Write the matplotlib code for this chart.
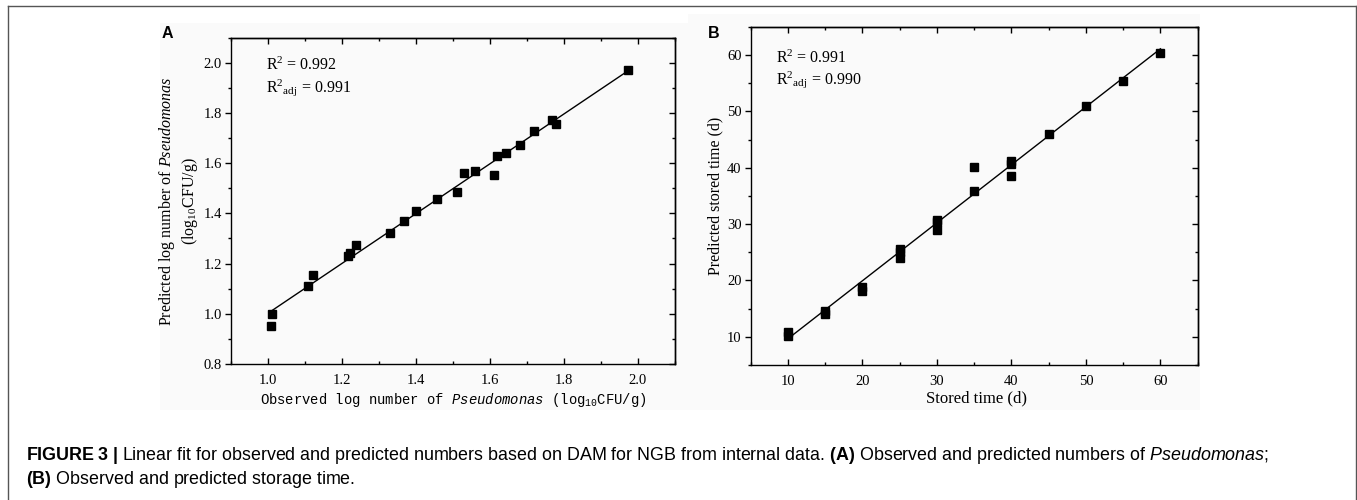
import numpy as np
import matplotlib
matplotlib.use("Agg")
import matplotlib.pyplot as plt
from matplotlib.ticker import MultipleLocator, FormatStrFormatter, NullFormatter
from matplotlib.lines import Line2D
from matplotlib.patches import Rectangle

# ---------------- data ----------------
obs_a = [1.007, 1.012, 1.107, 1.122, 1.217, 1.221, 1.238, 1.330, 1.367, 1.401, 1.458,
         1.512, 1.531, 1.560, 1.610, 1.618, 1.642, 1.681, 1.719, 1.768, 1.778, 1.974]
pred_a = [0.953, 1.001, 1.112, 1.153, 1.231, 1.241, 1.273, 1.321, 1.368, 1.408, 1.456,
          1.484, 1.560, 1.567, 1.554, 1.627, 1.641, 1.671, 1.728, 1.772, 1.757, 1.971]

obs_b = [10, 10, 15, 15, 20, 20, 25, 25, 25, 30, 30, 30, 35, 35, 40, 40, 40, 45, 50, 55, 60]
pred_b = [10.2, 10.9, 14.1, 14.5, 18.2, 18.9, 24.0, 25.0, 25.6, 28.9, 30.3, 30.8,
          35.8, 40.1, 38.6, 40.7, 41.2, 46.0, 51.0, 55.4, 60.4]

r2_a = "0.992"
r2adj_a = "0.991"
r2_b = "0.991"
r2adj_b = "0.990"

xticks_a = [1.0, 1.2, 1.4, 1.6, 1.8, 2.0]
yticks_a = [0.8, 1.0, 1.2, 1.4, 1.6, 1.8, 2.0]
xticks_b = [10, 20, 30, 40, 50, 60]
yticks_b = [10, 20, 30, 40, 50, 60]

caption1 = (r"$\mathbf{FIGURE\ 3\ |}$ Linear fit for observed and predicted numbers based on DAM "
            r"for NGB from internal data. $\mathbf{(A)}$ Observed and predicted numbers of "
            r"$\mathcal{Pseudomonas}$;")
caption2 = r"$\mathbf{(B)}$ Observed and predicted storage time."

# ---------------- style ----------------
plt.rcParams.update({
    "mathtext.fontset": "custom",
    "mathtext.rm": "Liberation Serif",
    "mathtext.it": "Liberation Serif:italic",
    "mathtext.bf": "Liberation Sans:bold",
    "mathtext.sf": "Liberation Mono:italic",
    "mathtext.tt": "Liberation Mono",
    "mathtext.cal": "Liberation Sans:italic",
    "mathtext.default": "regular",
    "axes.linewidth": 1.0,
})

SERIF = "Liberation Serif"
W, H = 1357, 500
fig = plt.figure(figsize=(W / 100, H / 100), dpi=100)


def px_rect(x0, y0, x1, y1):
    return (x0 / W, 1 - y1 / H, (x1 - x0) / W, (y1 - y0) / H)


# faint background of the pasted panels
for (x0, y0, x1, y1) in [(160, 23, 690, 410), (688, 14, 1200, 410)]:
    r = px_rect(x0, y0, x1, y1)
    fig.patches.append(Rectangle(r[:2], r[2], r[3], transform=fig.transFigure,
                                 facecolor="#fafafa", edgecolor="none", zorder=-10))

# outer border (left, top, right)
bc = "#555555"
fig.add_artist(Line2D([8 / W, 8 / W], [0, 1 - 6 / H], transform=fig.transFigure, color=bc, lw=1.0))
fig.add_artist(Line2D([8 / W, 1355.5 / W], [1 - 6 / H, 1 - 6 / H], transform=fig.transFigure, color=bc, lw=1.0))
fig.add_artist(Line2D([1355.5 / W, 1355.5 / W], [0, 1 - 6 / H], transform=fig.transFigure, color=bc, lw=1.0))

axA = fig.add_axes(px_rect(231, 37.7, 675, 364))
axB = fig.add_axes(px_rect(750.7, 26.8, 1197.7, 365))


def style_axes(ax, xmaj, xmin, ymaj, ymin, fmt):
    ax.set_facecolor("none")
    ax.xaxis.set_major_locator(MultipleLocator(xmaj))
    ax.xaxis.set_minor_locator(MultipleLocator(xmin))
    ax.yaxis.set_major_locator(MultipleLocator(ymaj))
    ax.yaxis.set_minor_locator(MultipleLocator(ymin))
    if fmt:
        ax.xaxis.set_major_formatter(FormatStrFormatter(fmt))
        ax.yaxis.set_major_formatter(FormatStrFormatter(fmt))
    ax.tick_params(axis="x", which="both", direction="in", top=False, bottom=True)
    ax.tick_params(axis="y", which="both", direction="out", right=False, left=True)
    ax.tick_params(which="major", length=4.0, width=1.0)
    ax.tick_params(which="minor", length=2.0, width=1.0)
    ax.tick_params(axis="x", which="major", pad=7)
    ax.tick_params(axis="y", which="major", pad=2.5)
    ax.tick_params(labelsize=10.5)
    top = ax.secondary_xaxis("top")
    top.xaxis.set_major_locator(MultipleLocator(xmaj))
    top.xaxis.set_minor_locator(MultipleLocator(xmin))
    top.xaxis.set_major_formatter(NullFormatter())
    top.tick_params(which="both", direction="in", width=1.0)
    top.tick_params(which="major", length=4.0)
    top.tick_params(which="minor", length=2.0)
    right = ax.secondary_yaxis("right")
    right.yaxis.set_major_locator(MultipleLocator(ymaj))
    right.yaxis.set_minor_locator(MultipleLocator(ymin))
    right.yaxis.set_major_formatter(NullFormatter())
    right.tick_params(which="both", direction="in", width=1.0)
    right.tick_params(which="major", length=4.0)
    right.tick_params(which="minor", length=2.0)


# ---------------- panel A ----------------
axA.set_xlim(0.9, 2.1)
axA.set_ylim(0.8, 2.1)
cA = np.polyfit(obs_a, pred_a, 1)
xa = np.array([min(obs_a) + 0.005, max(obs_a)])
axA.plot(xa, np.polyval(cA, xa), color="black", lw=1.0, zorder=2)
axA.plot(obs_a, pred_a, "s", color="black", ms=6, zorder=3)
style_axes(axA, 0.2, 0.1, 0.2, 0.1, "%.1f")
axA.set_xticks(xticks_a)
axA.set_yticks(yticks_a)
axA.xaxis.set_minor_locator(MultipleLocator(0.1))
for lab in axA.get_xticklabels() + axA.get_yticklabels():
    lab.set_fontfamily(SERIF)

axA.set_ylabel("Predicted log number of $\\mathit{Pseudomonas}$\n(log$_{10}$CFU/g)",
               fontfamily=SERIF, fontsize=11.5, va="center", linespacing=1.25)
axA.yaxis.set_label_coords(-0.118, 0.5)
axA.set_xlabel("Observed log number of $\\mathsf{Pseudomonas}$ (log$_{10}$CFU/g)",
               fontfamily="Liberation Mono", fontsize=10, va="center")
axA.xaxis.set_label_coords(0.5, -0.110)

axA.text(0.078, 0.914, "R$^{2}$ = " + r2_a, transform=axA.transAxes, fontfamily=SERIF,
         fontsize=11.5, va="center", ha="left")
axA.text(0.078, 0.848, "R$^{2}{}_{\\mathregular{adj}}$ = " + r2adj_a, transform=axA.transAxes,
         fontfamily=SERIF, fontsize=11.5, va="center", ha="left")

# ---------------- panel B ----------------
axB.set_xlim(5, 65)
axB.set_ylim(5, 65)
cB = np.polyfit(obs_b, pred_b, 1)
xb = np.array([min(obs_b), max(obs_b)])
axB.plot(xb, np.polyval(cB, xb), color="black", lw=1.0, zorder=2)
axB.plot(obs_b, pred_b, "s", color="black", ms=6, zorder=3)
style_axes(axB, 10, 5, 10, 5, None)
axB.set_xticks(xticks_b)
axB.set_yticks(yticks_b)
axB.xaxis.set_minor_locator(MultipleLocator(5))
for lab in axB.get_xticklabels() + axB.get_yticklabels():
    lab.set_fontfamily(SERIF)

axB.set_ylabel("Predicted stored time (d)", fontfamily=SERIF, fontsize=11.5, va="center")
axB.yaxis.set_label_coords(-0.080, 0.5)
axB.set_xlabel("Stored time (d)", fontfamily=SERIF, fontsize=12, va="center")
axB.xaxis.set_label_coords(0.505, -0.100)

axB.text(0.057, 0.908, "R$^{2}$ = " + r2_b, transform=axB.transAxes, fontfamily=SERIF,
         fontsize=11.5, va="center", ha="left")
axB.text(0.057, 0.843, "R$^{2}{}_{\\mathregular{adj}}$ = " + r2adj_b, transform=axB.transAxes,
         fontfamily=SERIF, fontsize=11.5, va="center", ha="left")

# ---------------- panel letters ----------------
fig.text(162 / W, 1 - 33 / H, "A", fontfamily="Liberation Sans", fontweight="bold",
         fontsize=11.5, ha="left", va="center")
fig.text(708 / W, 1 - 33 / H, "B", fontfamily="Liberation Sans", fontweight="bold",
         fontsize=11.5, ha="left", va="center")

# ---------------- caption ----------------
cap_font = "Liberation Sans"
fig.text(26 / W, 1 - 456 / H, caption1, fontfamily=cap_font, fontsize=12.85, ha="left", va="center")
fig.text(26 / W, 1 - 479 / H, caption2, fontfamily=cap_font, fontsize=12.85, ha="left", va="center")

fig.savefig("out.png", dpi=100)
